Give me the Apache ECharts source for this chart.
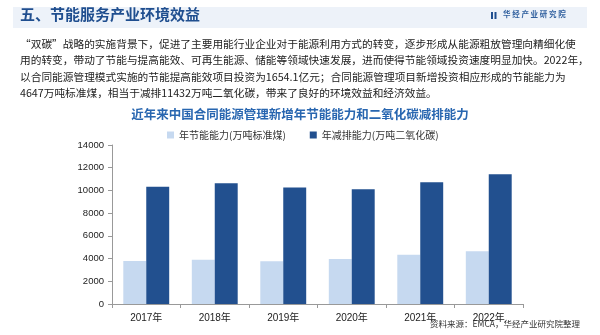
<!DOCTYPE html>
<html>
<head>
<meta charset="utf-8">
<script src="https://cdn.jsdelivr.net/npm/echarts@6/dist/echarts.min.js"></script>
<style>
html,body{margin:0;padding:0;background:#fff;}
#c{width:600px;height:335px;}
</style>
</head>
<body>
<div id="c"></div>
<script>
var categories = ['2017年', '2018年', '2019年', '2020年', '2021年', '2022年'];
var energySaving = [3780, 3900, 3770, 3970, 4330, 4647];
var co2Reduction = [10330, 10640, 10250, 10110, 10720, 11432];
var seriesNames = ['年节能能力(万吨标准煤)', '年减排能力(万吨二氧化碳)'];
var yTicks = { min: 0, max: 14000, interval: 2000 };
var headerTitle = '五、节能服务产业环境效益';
var brandText = '华 经 产 业 研 究 院';
var paragraphLines = [
  '“双碳”战略的实施背景下，促进了主要用能行业企业对于能源利用方式的转变，逐步形成从能源粗放管理向精细化使',
  '用的转变，带动了节能与提高能效、可再生能源、储能等领域快速发展，进而使得节能领域投资速度明显加快。2022年，',
  '以合同能源管理模式实施的节能提高能效项目投资为1654.1亿元；合同能源管理项目新增投资相应形成的节能能力为',
  '4647万吨标准煤，相当于减排11432万吨二氧化碳，带来了良好的环境效益和经济效益。'
];
var chartTitle = '近年来中国合同能源管理新增年节能能力和二氧化碳减排能力';
var sourceText = '资料来源：EMCA，华经产业研究院整理';

var CJK = '"Noto Sans CJK SC", "Noto Sans", sans-serif';
var LAT = '"Liberation Sans", "Noto Sans CJK SC", sans-serif';

var graphics = [
  { type: 'rect', shape: { x: 13, y: 7, width: 574, height: 21 }, style: { fill: '#edf2f9' }, silent: true },
  { type: 'text', left: 20, top: 7, style: { text: headerTitle, font: 'bold 15px ' + CJK, fill: '#1f4e8f' } },
  { type: 'rect', shape: { x: 491, y: 12, width: 2, height: 7 }, style: { fill: '#1f4e8f' } },
  { type: 'rect', shape: { x: 494.5, y: 12, width: 2, height: 7 }, style: { fill: '#1f4e8f' } },
  { type: 'text', left: 503, top: 10.5, style: { text: brandText, font: 'bold 7.5px ' + CJK, fill: '#2f5f9e' } },
  { type: 'text', right: 20, top: 320, style: { text: sourceText, font: '8.5px ' + CJK, fill: '#333' } }
];
var lineY = [38.5, 55, 71.5, 88];
paragraphLines.forEach(function (t, i) {
  graphics.push({ type: 'text', left: 20, top: lineY[i], style: { text: t, font: '10.7px ' + CJK, fill: '#222' } });
});

var chart = echarts.init(document.getElementById('c'), null, { renderer: 'canvas' });
chart.setOption({
  animation: false,
  backgroundColor: '#fff',
  title: {
    text: chartTitle, left: 'center', top: 103,
    textStyle: { fontFamily: CJK, fontSize: 12.5, fontWeight: 'bold', color: '#2866b0' }
  },
  legend: {
    data: seriesNames, left: 162, top: 125, itemWidth: 7, itemHeight: 7, itemGap: 24, icon: 'rect',
    textStyle: { fontFamily: CJK, fontSize: 10, color: '#333' }
  },
  grid: { left: 112, right: 77, top: 145, bottom: 31, containLabel: false },
  xAxis: {
    type: 'category', data: categories,
    axisLine: { lineStyle: { color: '#999' } },
    axisTick: { show: true, length: 4, lineStyle: { color: '#999' } },
    axisLabel: { fontFamily: LAT, fontSize: 10, color: '#222', margin: 9 }
  },
  yAxis: {
    type: 'value', min: yTicks.min, max: yTicks.max, interval: yTicks.interval,
    axisLine: { show: true, lineStyle: { color: '#999' } },
    axisTick: { show: true, length: 4, lineStyle: { color: '#999' } },
    splitLine: { show: false },
    axisLabel: { fontFamily: LAT, fontSize: 9.5, color: '#222', margin: 8,
      formatter: function (v) { return String(v); } }
  },
  series: [
    { name: seriesNames[0], type: 'bar', data: energySaving, barGap: '0%', barCategoryGap: '33%',
      itemStyle: { color: '#c6d9f0' } },
    { name: seriesNames[1], type: 'bar', data: co2Reduction,
      itemStyle: { color: '#22508f' } }
  ],
  graphic: graphics
});
</script>
</body>
</html>
